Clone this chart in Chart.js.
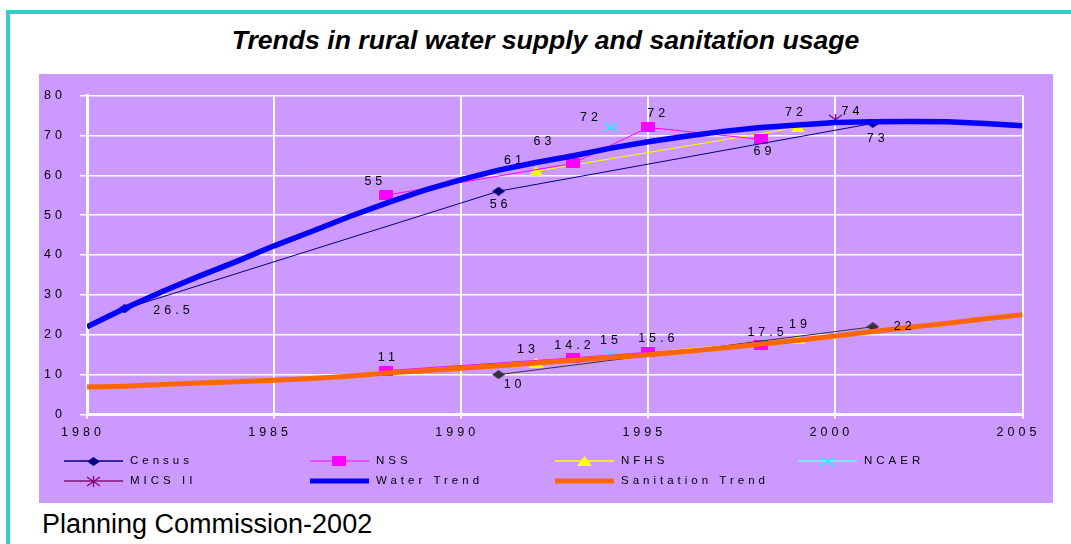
<!DOCTYPE html>
<html><head><meta charset="utf-8">
<script src="https://cdn.jsdelivr.net/npm/chart.js@4.4.1/dist/chart.umd.min.js"></script>
<style>
html,body{margin:0;padding:0;background:#fff;width:1071px;height:544px;overflow:hidden;font-family:"Liberation Sans",Arial,sans-serif;}
#frame{position:absolute;left:6px;top:10px;width:1100px;height:600px;border-left:4px solid #33CCCC;border-top:4px solid #33CCCC;box-sizing:border-box;}
#title{position:absolute;left:0;top:27px;width:1091px;text-align:center;font:italic bold 26.6px/26px "Liberation Sans",Arial,sans-serif;color:#000;}
#wrap{position:absolute;left:39px;top:74px;width:1014px;height:429px;background:#CC99FF;}
#src{position:absolute;left:42px;top:511px;font:27px/27px "Liberation Sans",Arial,sans-serif;color:#000;}
canvas{display:block;}
</style></head><body>
<div id="frame"></div>
<div id="title">Trends in rural water supply and sanitation usage</div>
<div id="wrap"><canvas id="c" width="1014" height="429"></canvas></div>
<div id="src">Planning Commission-2002</div>
<script>
// ---------- data ----------
const trendYears = [1980,1981,1982,1983,1984,1985,1986,1987,1988,1989,1990,1991,1992,1993,1994,1995,1996,1997,1998,1999,2000,2001,2002,2003,2004,2005];
const waterTrend = [22,26.6,30.8,34.7,38.4,42.3,45.9,49.6,53.0,56.2,58.9,61.3,63.2,64.9,66.8,68.4,69.8,71.0,72.0,72.6,73.2,73.4,73.5,73.4,73.0,72.4];
const sanitationTrend = [6.9,7.1,7.5,7.9,8.2,8.6,9.0,9.6,10.4,11.0,11.6,12.2,12.9,13.6,14.3,15.0,15.8,16.7,17.6,18.6,19.7,20.8,21.9,22.9,24.0,25.0];

const censusWaterYears = [1981,1991,2001];
const censusWater = [26.5,56,73];
const censusSanYears = [1991,2001];
const censusSan = [10,22];

const nssYears = [1988,1993,1995,1998];
const nssWater = [55,63,72,69];
const nssSan = [11,14.2,15.6,17.5];

const nfhsYears = [1992,1999];
const nfhsWater = [61,72];
const nfhsSan = [13,19];

const ncaerYears = [1994];
const ncaerWater = [72];
const ncaerSan = [15];

const micsYears = [2000];
const micsWater = [74];

const xTicks = {min:1980, max:2005, step:5};
const yTicks = {min:0, max:80, step:10};

// ---------- styles ----------
const FONT = '"Liberation Sans", Arial, sans-serif';
function marker(w,h,fn){const c=document.createElement('canvas');c.width=w;c.height=h;const g=c.getContext('2d');fn(g,w,h);return c;}
const sqMark = marker(14,10,(g,w,h)=>{g.fillStyle='#FF00FF';g.fillRect(0,0,w,h);});
const triMark = marker(15,10,(g,w,h)=>{g.fillStyle='#FFFF00';g.beginPath();g.moveTo(w/2,0);g.lineTo(w,h);g.lineTo(0,h);g.closePath();g.fill();});
const diaMark = col => marker(13,9,(g,w,h)=>{g.fillStyle=col;g.beginPath();g.moveTo(w/2,0);g.lineTo(w,h/2);g.lineTo(w/2,h);g.lineTo(0,h/2);g.closePath();g.fill();});
const xMark = marker(15,11,(g,w,h)=>{g.strokeStyle='#00FFFF';g.lineWidth=1.5;g.beginPath();g.moveTo(1,1);g.lineTo(w-1,h-1);g.moveTo(w-1,1);g.lineTo(1,h-1);g.stroke();});
const starMark = marker(15,11,(g,w,h)=>{g.strokeStyle='#800080';g.lineWidth=1.3;g.beginPath();g.moveTo(1,1);g.lineTo(w-1,h-1);g.moveTo(w-1,1);g.lineTo(1,h-1);g.moveTo(w/2,0);g.lineTo(w/2,h);g.stroke();});
const censusWaterMark = diaMark('#000080');
const censusSanMark = diaMark('#333333');

const pts = (xs,ys)=>xs.map((x,i)=>({x:x,y:ys[i]}));
function series(id,label,xs,ys,o){return Object.assign({id:id,label:label,data:pts(xs,ys),showLine:true,fill:false,tension:0,borderWidth:1,pointRadius:6,pointHoverRadius:6,order:1},o);}

const labelOffsets = {
  censusWater:[[47,2],[0,13],[3,15]],
  censusSan:[[14,10],[30,0]],
  nssWater:[[-13,-14],[-31,-22],[8,-14],[2,12]],
  nssSan:[[0,-13],[-1,-12],[8,-14],[5,-12]],
  nfhsWater:[[-23,-11],[-4,-15]],
  nfhsSan:[[-10,-13],[0,-14]],
  ncaerWater:[[-22,-10]],
  ncaerSan:[[-2,-14]],
  micsWater:[[15,-8]]
};

const datasets = [
  series('water','Water Trend',trendYears,waterTrend,{borderColor:'#0000FF',backgroundColor:'#0000FF',borderWidth:5.5,pointRadius:0,order:0}),
  series('san','Sanitation Trend',trendYears,sanitationTrend,{borderColor:'#FF6600',backgroundColor:'#FF6600',borderWidth:5,pointRadius:0,order:0}),
  series('censusWater','Census',censusWaterYears,censusWater,{borderColor:'#000080',backgroundColor:'#000080',pointStyle:censusWaterMark}),
  series('censusSan','Census',censusSanYears,censusSan,{borderColor:'#333333',backgroundColor:'#333333',pointStyle:censusSanMark}),
  series('nssWater','NSS',nssYears,nssWater,{borderColor:'#FF00FF',backgroundColor:'#FF00FF',pointStyle:sqMark}),
  series('nssSan','NSS',nssYears,nssSan,{borderColor:'#FF00FF',backgroundColor:'#FF00FF',pointStyle:sqMark}),
  series('nfhsWater','NFHS',nfhsYears,nfhsWater,{borderColor:'#FFFF00',backgroundColor:'#FFFF00',pointStyle:triMark}),
  series('nfhsSan','NFHS',nfhsYears,nfhsSan,{borderColor:'#FFFF00',backgroundColor:'#FFFF00',pointStyle:triMark}),
  series('ncaerWater','NCAER',ncaerYears,ncaerWater,{borderColor:'#00FFFF',backgroundColor:'#00FFFF',pointStyle:xMark}),
  series('ncaerSan','NCAER',ncaerYears,ncaerSan,{borderColor:'#00FFFF',backgroundColor:'#00FFFF',pointStyle:xMark}),
  series('micsWater','MICS II',micsYears,micsWater,{borderColor:'#993399',backgroundColor:'#800080',pointStyle:starMark})
];

// legend entries: dataset id, line colour, line width, marker
const legendEntries = [
  {id:'censusWater',color:'#000080',lw:1.5,mark:censusWaterMark},
  {id:'nssWater',color:'#FF00FF',lw:1,mark:sqMark},
  {id:'nfhsWater',color:'#FFFF00',lw:1.5,mark:triMark},
  {id:'ncaerWater',color:'#66FFFF',lw:1.5,mark:xMark},
  {id:'micsWater',color:'#993399',lw:2,mark:starMark},
  {id:'water',color:'#0000FF',lw:5,mark:null},
  {id:'san',color:'#FF6600',lw:5,mark:null}
];
const legendCols=[25,271,516,759], legendRows=[387,407];

const spacingPlugin = {id:'spacing', beforeDraw(chart){ chart.ctx.letterSpacing='4px'; }};

const labelPlugin = {id:'labels', afterDatasetsDraw(chart){
  const ctx=chart.ctx; ctx.save();
  ctx.letterSpacing='4px'; ctx.font='12.5px '+FONT; ctx.fillStyle='#000';
  ctx.textAlign='center'; ctx.textBaseline='middle';
  chart.data.datasets.forEach((d,di)=>{
    const offs=labelOffsets[d.id]; if(!offs) return;
    const meta=chart.getDatasetMeta(di);
    meta.data.forEach((p,i)=>{
      const o=offs[i]||[0,-12];
      ctx.fillText(String(d.data[i].y), p.x+o[0]+2, p.y+o[1]);
    });
  });
  ctx.restore();
}};

const legendPlugin = {id:'customLegend', afterDraw(chart){
  const ctx=chart.ctx; ctx.save();
  ctx.letterSpacing='4px'; ctx.font='11.5px '+FONT;
  ctx.textAlign='left'; ctx.textBaseline='middle';
  legendEntries.forEach((e,i)=>{
    const ds=chart.data.datasets.find(d=>d.id===e.id);
    const x=legendCols[i%4], y=legendRows[Math.floor(i/4)];
    ctx.strokeStyle=e.color; ctx.lineWidth=e.lw; ctx.lineCap='butt';
    ctx.beginPath(); ctx.moveTo(x,y); ctx.lineTo(x+59,y); ctx.stroke();
    if(e.mark){ ctx.drawImage(e.mark, Math.round(x+29-e.mark.width/2), Math.round(y-e.mark.height/2)); }
    ctx.fillStyle='#000';
    ctx.fillText(ds.label, x+66, y);
  });
  ctx.restore();
}};

new Chart(document.getElementById('c'), {
  type:'line',
  data:{datasets:datasets},
  options:{
    responsive:false, animation:false, devicePixelRatio:1,
    events:[],
    layout:{padding:{left:0,top:12,right:30.5,bottom:58.5}},
    plugins:{legend:{display:false}, tooltip:{enabled:false}, title:{display:false}},
    scales:{
      x:{type:'linear',min:xTicks.min,max:xTicks.max,
        ticks:{stepSize:xTicks.step,color:'#000',font:{size:12.5,family:FONT},padding:7,labelOffset:-4,maxRotation:0,autoSkip:false,callback:v=>String(v)},
        grid:{color:'#FFFFFF',lineWidth:2,tickLength:4,tickColor:'#FFFFFF'},
        border:{color:'#FFFFFF',width:3},
        afterFit(s){s.height=30;}
      },
      y:{type:'linear',min:yTicks.min,max:yTicks.max,
        ticks:{stepSize:yTicks.step,color:'#000',font:{size:12.5,family:FONT},padding:14,callback:v=>String(v)},
        grid:{color:'#FFFFFF',lineWidth:1.5,tickLength:7,tickColor:'#FFFFFF'},
        border:{color:'#FFFFFF',width:3},
        afterFit(s){s.width=48;}
      }
    }
  },
  plugins:[spacingPlugin,labelPlugin,legendPlugin]
});
</script>
</body></html>
